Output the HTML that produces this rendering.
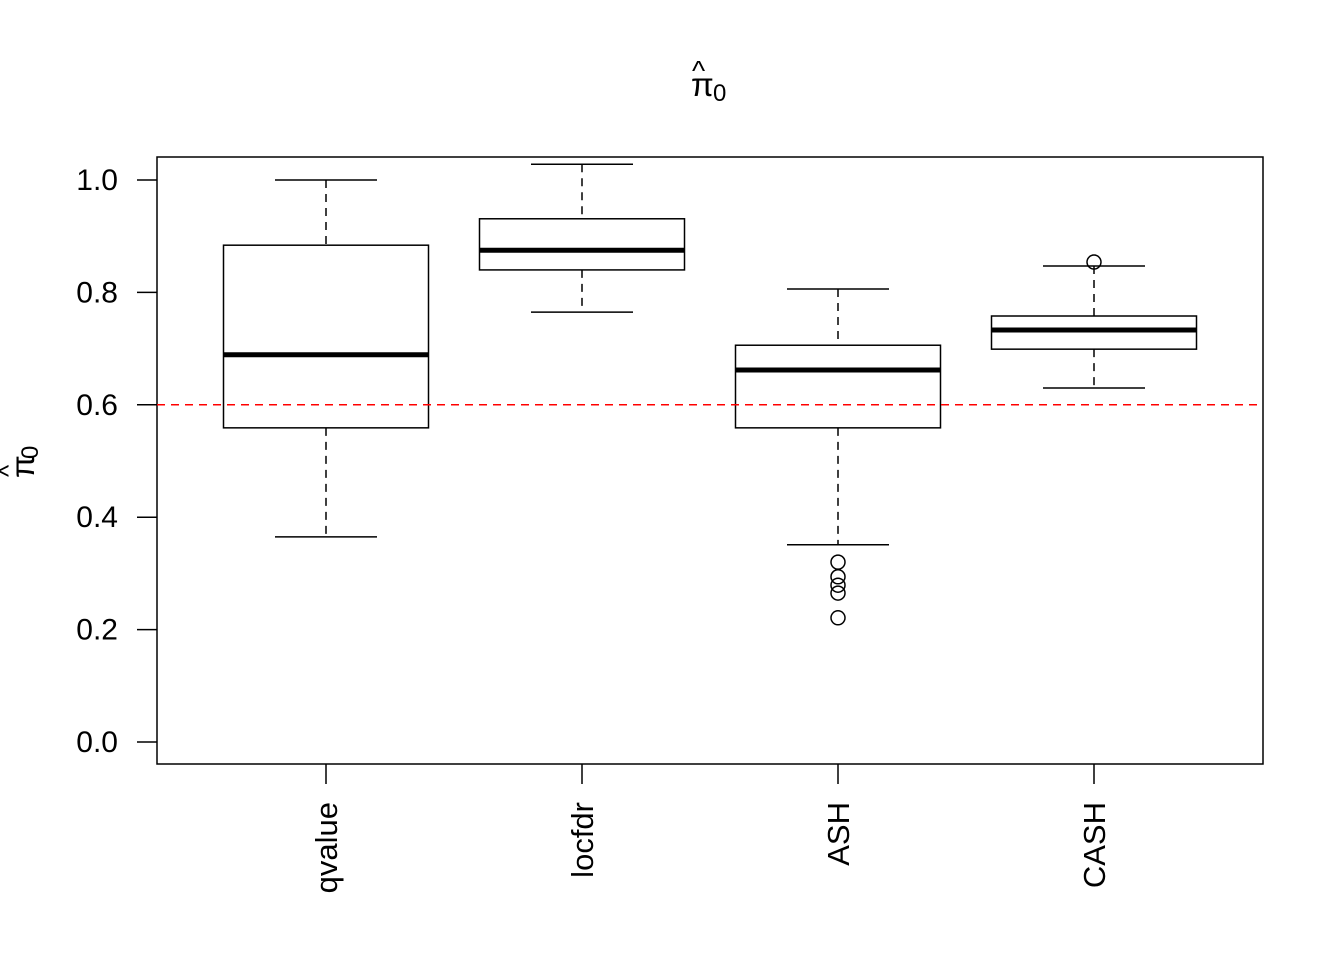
<!DOCTYPE html>
<html><head><meta charset="utf-8"><style>
html,body{margin:0;padding:0;background:#fff;}
svg{display:block;font-family:"Liberation Sans",Arial,sans-serif;}
</style></head><body>
<svg id="chart" width="1344" height="960" viewBox="0 0 1344 960" xmlns="http://www.w3.org/2000/svg">
<rect width="1344" height="960" fill="#fff"/>
<g>
<text x="691" y="96" font-size="33">π</text>
<text x="713" y="101" font-size="24">0</text>
<text x="692" y="80" font-size="28">^</text>
</g>
<g transform="translate(34,478) rotate(-90)">
<text x="0" y="0" font-size="33">π</text>
<text x="19" y="4" font-size="24">0</text>
<text x="1" y="-17" font-size="26">^</text>
</g>
<rect x="157" y="157" width="1106" height="607" fill="none" stroke="#000" stroke-width="1.5"/>
<g id="yaxis"></g>
<g id="xaxis"></g>
<g id="boxes"></g>
</svg>
<script>
const categories = ["qvalue","locfdr","ASH","CASH"];
const whiskerLow = [0.365, 0.765, 0.351, 0.630];
const q1 = [0.559, 0.840, 0.559, 0.699];
const medians = [0.689, 0.875, 0.662, 0.733];
const q3 = [0.884, 0.931, 0.706, 0.758];
const whiskerHigh = [1.0, 1.028, 0.806, 0.847];
const outlierGroup = [2,2,2,2,2,3];
const outlierValues = [0.320, 0.294, 0.279, 0.265, 0.221, 0.854];
const yTicks = [0.0, 0.2, 0.4, 0.6, 0.8, 1.0];
const yTickLabels = ["0.0","0.2","0.4","0.6","0.8","1.0"];
const refLine = [0.6];

const NS = "http://www.w3.org/2000/svg";
const y = v => 742 - 562 * v;
const x = i => 326 + 256 * i;
function mk(tag, attrs, parent){
  const e = document.createElementNS(NS, tag);
  for (const k in attrs) e.setAttribute(k, attrs[k]);
  parent.appendChild(e); return e;
}
const ya = document.getElementById('yaxis');
yTicks.forEach((t,i)=>{
  const l = mk('line',{x1:137,x2:157,y1:y(t),y2:y(t),stroke:'#000','stroke-width':1.5},ya);
  
  
  const tx = mk('text',{x:118,y:y(t)+10,'font-size':30,'text-anchor':'end'},ya);
  tx.textContent = yTickLabels[i];
  
  
});
const xa = document.getElementById('xaxis');
categories.forEach((c,i)=>{
  const l = mk('line',{x1:x(i),x2:x(i),y1:764,y2:784,stroke:'#000','stroke-width':1.5},xa);
  
  
  const tx = mk('text',{x:0,y:0,'font-size':31,'text-anchor':'end',transform:`translate(${x(i)+11},802) rotate(-90)`},xa);
  tx.textContent = c;
  
  
});
const bx = document.getElementById('boxes');
const hw = 102.5, cw = 51;
categories.forEach((c,i)=>{
  const g = mk('g',{},bx);
  
  
  mk('line',{x1:x(i),x2:x(i),y1:y(whiskerHigh[i]),y2:y(q3[i]),stroke:'#000','stroke-width':1.5,'stroke-dasharray':'8,6'},g);
  mk('line',{x1:x(i),x2:x(i),y1:y(q1[i]),y2:y(whiskerLow[i]),stroke:'#000','stroke-width':1.5,'stroke-dasharray':'8,6'},g);
  mk('line',{x1:x(i)-cw,x2:x(i)+cw,y1:y(whiskerHigh[i]),y2:y(whiskerHigh[i]),stroke:'#000','stroke-width':1.5},g);
  mk('line',{x1:x(i)-cw,x2:x(i)+cw,y1:y(whiskerLow[i]),y2:y(whiskerLow[i]),stroke:'#000','stroke-width':1.5},g);
  mk('rect',{x:x(i)-hw,y:y(q3[i]),width:2*hw,height:y(q1[i])-y(q3[i]),fill:'#fff',stroke:'#000','stroke-width':1.5},g);
  mk('line',{x1:x(i)-hw,x2:x(i)+hw,y1:y(medians[i]),y2:y(medians[i]),stroke:'#000','stroke-width':5},g);
});
outlierValues.forEach((v,k)=>{
  const c = mk('circle',{cx:x(outlierGroup[k]),cy:y(v),r:7,fill:'none',stroke:'#000','stroke-width':1.5},bx);
  
  
});
refLine.forEach(v=>{
  const l = mk('line',{x1:157,x2:1263,y1:y(v),y2:y(v),stroke:'#ff0000','stroke-width':1.5,'stroke-dasharray':'8,6'},bx);
  
  
});
</script>
</body></html>
